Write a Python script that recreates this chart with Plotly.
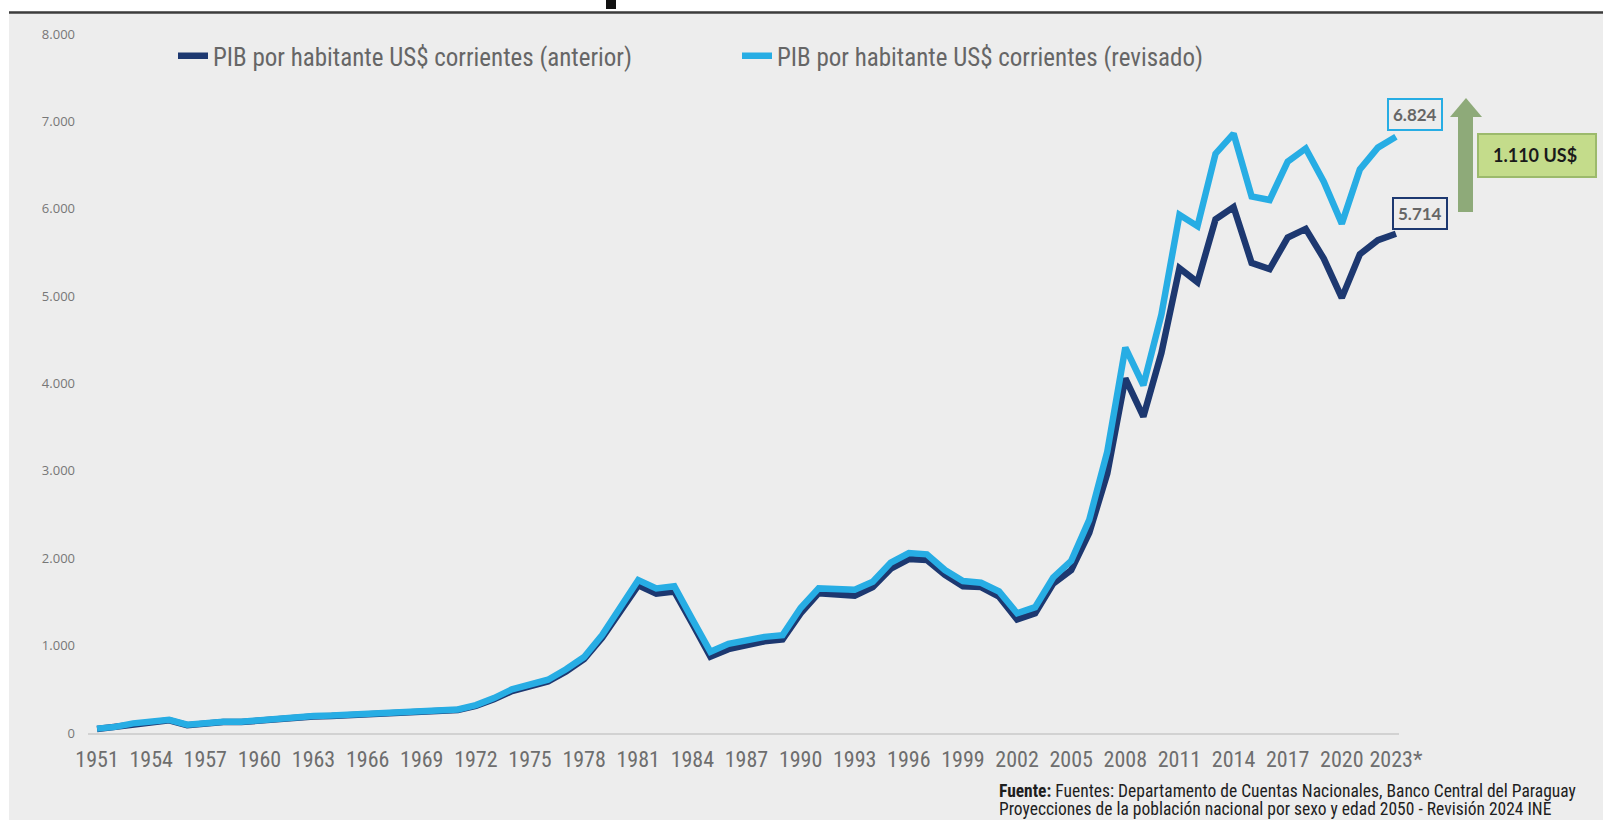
import plotly.graph_objects as go

# ---------------- data ----------------
years = list(range(1951, 2024))
pib_anterior = [
    45, 68, 105, 125, 145, 90, 115, 125, 125, 140,
    165, 185, 190, 195, 205, 210, 215, 220, 228, 238,
    262, 310, 385, 480, 540, 590, 705, 845, 1090, 1395,
    1690, 1595, 1620, 1250, 875, 960, 1000, 1050, 1070, 1370,
    1600, 1590, 1570, 1670, 1880, 1990, 1980, 1810, 1680, 1670,
    1560, 1300, 1370, 1710, 1865, 2290, 2970, 4060, 3620, 4350,
    5320, 5160, 5880, 6020, 5380, 5310, 5670, 5770, 5430, 4980,
    5480, 5640, 5714,
]
pib_revisado = [
    50, 70, 110, 130, 150, 95, 120, 130, 130, 145,
    170, 190, 195, 200, 210, 215, 220, 225, 235, 245,
    270, 320, 400, 500, 560, 610, 730, 870, 1120, 1430,
    1750, 1655, 1680, 1300, 930, 1020, 1060, 1100, 1120, 1430,
    1655, 1655, 1640, 1730, 1950, 2060, 2045, 1865, 1740, 1720,
    1620, 1370, 1440, 1780, 1970, 2440, 3220, 4410, 3980, 4790,
    5930, 5800, 6630, 6860, 6140, 6100, 6540, 6690, 6310, 5830,
    6450, 6700, 6824,
]
tick_years = list(range(1951, 2024, 3))
tick_labels = [str(y) for y in tick_years[:-1]] + ["2023*"]
y_ticks = list(range(0, 8001, 1000))
series_names = ["PIB por habitante US$ corrientes (anterior)",
                "PIB por habitante US$ corrientes (revisado)"]
source_lines = ["<b>Fuente:</b> Fuentes: Departamento de Cuentas Nacionales, Banco Central del Paraguay",
                "Proyecciones de la población nacional por sexo y edad 2050 - Revisión 2024 INE"]

# ---------------- style ----------------
DARK = "#1d3870"
LIGHT = "#27ade4"
BG = "#ededed"
NARROW = "'Liberation Sans Narrow', 'Roboto Condensed', 'DejaVu Sans Condensed', 'Liberation Sans', sans-serif"

W, H = 1603, 820
L, R, T, B = 88, 204, 34, 87
PW, PH = W - L - R, H - T - B


def px(x):
    return (x - L) / PW


def py(y):
    return (H - B - y) / PH


def fmt(v):
    return f"{v:,}".replace(",", ".")


fig = go.Figure()
fig.add_trace(go.Scatter(x=years, y=pib_anterior, mode="lines", name=series_names[0],
                         line=dict(color=DARK, width=6.5), legend="legend"))
fig.add_trace(go.Scatter(x=years, y=pib_revisado, mode="lines", name=series_names[1],
                         line=dict(color=LIGHT, width=6.5), legend="legend2"))

shapes = []
# white frame strips + top rule
shapes.append(dict(type="rect", xref="paper", yref="paper", x0=px(0), x1=px(W), y0=py(11), y1=py(0),
                   fillcolor="white", line_width=0, layer="below"))
shapes.append(dict(type="rect", xref="paper", yref="paper", x0=px(0), x1=px(9), y0=py(H), y1=py(0),
                   fillcolor="white", line_width=0, layer="below"))
shapes.append(dict(type="line", xref="paper", yref="paper", x0=px(9), x1=px(W), y0=py(12.5), y1=py(12.5),
                   line=dict(color="#3c3c3c", width=2.5)))
# fragment of cut-off title glyph
shapes.append(dict(type="rect", xref="paper", yref="paper", x0=px(606), x1=px(616), y0=py(9), y1=py(0),
                   fillcolor="#111111", line_width=0))
# arrow (shaft + head)
ARROW = "#8eaa79"
shapes.append(dict(type="rect", xref="paper", yref="paper", x0=px(1458), x1=px(1473), y0=py(212), y1=py(116),
                   fillcolor=ARROW, line_width=0))
shapes.append(dict(type="path", xref="paper", yref="paper",
                   path=f"M {px(1450)},{py(117)} L {px(1482)},{py(117)} L {px(1466)},{py(98)} Z",
                   fillcolor=ARROW, line_width=0))
# difference box
shapes.append(dict(type="rect", xref="paper", yref="paper", x0=px(1478), x1=px(1596), y0=py(177), y1=py(134),
                   fillcolor="#c4dc8b", line=dict(color="#9cba6c", width=2)))

annotations = []
# end-value labels
lab_font = dict(family="Lato, 'Open Sans', sans-serif", size=17, color="#666666", weight="bold")
annotations.append(dict(x=years[-1], y=pib_revisado[-1], text=fmt(pib_revisado[-1]), showarrow=False,
                        xanchor="left", yanchor="bottom", xshift=-9, yshift=6, font=lab_font,
                        bgcolor=BG, bordercolor=LIGHT, borderwidth=2, borderpad=4))
annotations.append(dict(x=years[-1], y=pib_anterior[-1], text=fmt(pib_anterior[-1]), showarrow=False,
                        xanchor="left", yanchor="bottom", xshift=-4, yshift=4, font=lab_font,
                        bgcolor=BG, bordercolor=DARK, borderwidth=2, borderpad=4))
# difference text
diff = pib_revisado[-1] - pib_anterior[-1]
annotations.append(dict(xref="paper", yref="paper", x=px(1491), y=py(155.5), text=f"<b>{fmt(diff)} US$</b>",
                        showarrow=False, xanchor="left", yanchor="middle",
                        font=dict(family="Lato, 'Open Sans', sans-serif", size=18, color="#1a1a1a")))
# source (two lines)
for txt, yc in zip(source_lines, [791, 809]):
    annotations.append(dict(xref="paper", yref="paper", x=px(997), y=py(yc), text=txt,
                            showarrow=False, xanchor="left", yanchor="middle", align="left",
                            font=dict(family=NARROW, size=17.5, color="#1e1e1e")))

fig.update_layout(
    width=W, height=H, autosize=False,
    margin=dict(l=L, r=R, t=T, b=B),
    paper_bgcolor=BG, plot_bgcolor=BG,
    separators=",.",
    showlegend=True,
    legend=dict(x=px(173), y=py(56), xanchor="left", yanchor="middle", orientation="h",
                bgcolor="rgba(0,0,0,0)", font=dict(family=NARROW, size=25, color="#666666")),
    legend2=dict(x=px(737), y=py(56), xanchor="left", yanchor="middle", orientation="h",
                 bgcolor="rgba(0,0,0,0)", font=dict(family=NARROW, size=25, color="#666666")),
    xaxis=dict(range=[1950.5, 2023.17], tickvals=tick_years, ticktext=tick_labels, tickangle=0,
               showgrid=False, zeroline=False, showline=True, linecolor="#d2d2d2", linewidth=2,
               ticks="", ticklabelstandoff=6,
               tickfont=dict(family=NARROW, size=22, color="#6e6e6e")),
    yaxis=dict(range=[0, 8000], tickvals=y_ticks, tickformat=",.0f",
               showgrid=False, zeroline=False, showline=False, ticks="", ticklabelstandoff=12,
               tickfont=dict(family="'Open Sans', sans-serif", size=13, color="#777777")),
    shapes=shapes,
    annotations=annotations,
)

fig.write_html("out.html", config={"displayModeBar": False},
               post_script="document.body.style.margin='0';document.body.style.overflow='hidden';")
